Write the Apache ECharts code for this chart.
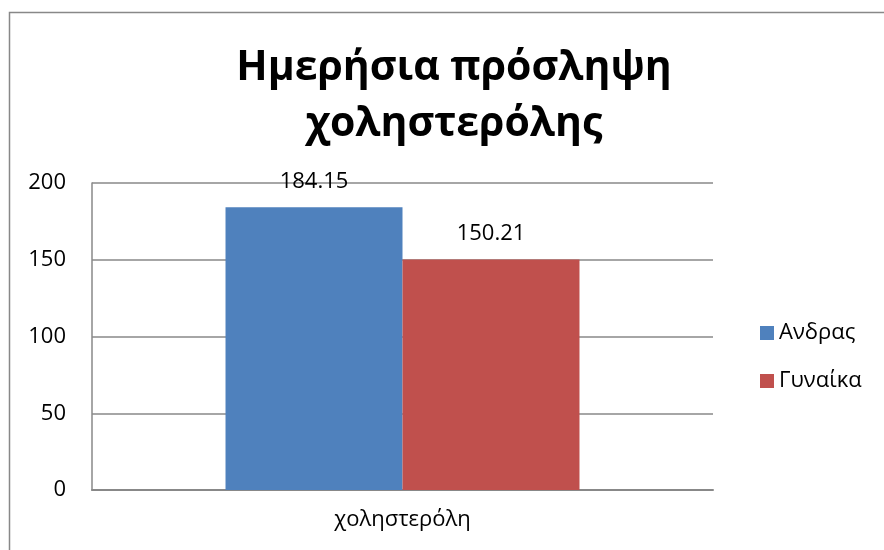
<!DOCTYPE html>
<html>
<head>
<meta charset="utf-8">
<script src="https://cdn.jsdelivr.net/npm/echarts@6/dist/echarts.min.js"></script>
<style>
html,body{margin:0;padding:0;background:#fff;}
#chart{width:884px;height:550px;}
</style>
</head>
<body>
<div id="chart"></div>
<script>
// Daily cholesterol intake by sex
const categories = ['χοληστερόλη'];
const seriesNames = ['Ανδρας', 'Γυναίκα'];
const menValues = [184.15];
const womenValues = [150.21];
const yTicks = [0, 50, 100, 150, 200];

const FONT = '"Open Sans", "Noto Sans", sans-serif';
const chart = echarts.init(document.getElementById('chart'), null, { renderer: 'canvas' });

const labelStyle = {
  show: true,
  position: 'top',
  distance: 15,
  color: '#000',
  fontSize: 22,
  fontFamily: FONT,
  formatter: p => p.value.toFixed(2)
};

chart.setOption({
  animation: false,
  backgroundColor: '#fff',
  graphic: [{
    type: 'rect',
    shape: { x: 9.5, y: 12.5, width: 900, height: 600 },
    style: { fill: 'none', stroke: '#888', lineWidth: 1.5 },
    silent: true,
    z: -1
  }],
  title: {
    text: 'Ημερήσια πρόσληψη\nχοληστερόλης',
    left: 449,
    textAlign: 'center',
    top: 35,
    textStyle: {
      fontFamily: FONT,
      fontWeight: 'bold',
      fontSize: 41,
      lineHeight: 56,
      color: '#000'
    }
  },
  legend: {
    orient: 'vertical',
    left: 755,
    top: 317,
    itemWidth: 14,
    itemHeight: 14,
    itemGap: 26,
    icon: 'rect',
    textStyle: { fontFamily: FONT, fontSize: 22, color: '#000' },
    data: seriesNames
  },
  grid: { left: 92, right: 171, top: 183, bottom: 60, containLabel: false },
  xAxis: {
    type: 'category',
    data: categories,
    axisLine: { lineStyle: { color: '#888', width: 2 } },
    axisTick: { show: false },
    axisLabel: { fontFamily: FONT, fontSize: 22, color: '#000', margin: 19 }
  },
  yAxis: {
    type: 'value',
    min: yTicks[0],
    max: yTicks[yTicks.length - 1],
    interval: 50,
    axisLine: { show: true, lineStyle: { color: '#888', width: 1.5 } },
    axisTick: { show: false },
    axisLabel: { fontFamily: FONT, fontSize: 22, color: '#000', margin: 26 },
    splitLine: { lineStyle: { color: '#888', width: 1.5 } }
  },
  series: [
    {
      name: seriesNames[0],
      type: 'bar',
      data: menValues,
      itemStyle: { color: '#4f81bd' },
      barGap: '0%',
      barCategoryGap: '43%',
      label: labelStyle
    },
    {
      name: seriesNames[1],
      type: 'bar',
      data: womenValues,
      itemStyle: { color: '#c0504d' },
      barGap: '0%',
      barCategoryGap: '43%',
      label: labelStyle
    }
  ]
});
</script>
</body>
</html>
